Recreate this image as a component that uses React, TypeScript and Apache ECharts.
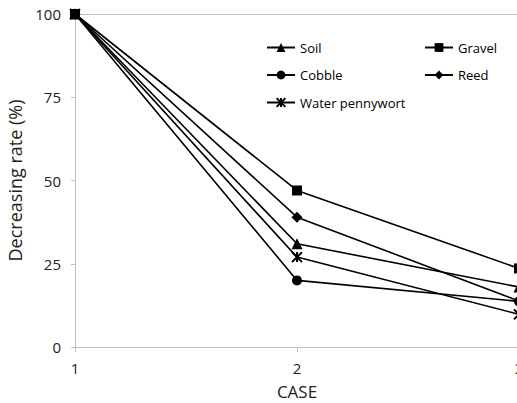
import React, { useEffect, useRef } from "react";
import * as echarts from "echarts";

const cases = [1, 2, 3];
const soil = [100, 31, 18];
const gravel = [100, 47, 23.6];
const cobble = [100, 20, 13.7];
const reed = [100, 39, 13.8];
const waterPennywort = [100, 27, 9.8];
const yTicks = [0, 25, 50, 75, 100];

const FONT = "'Open Sans', 'Noto Sans', sans-serif";
const asterisk = "path://M0,0L10,10M10,0L0,10M5,0L5,10";

function mk(name: string, vals: number[], symbol: string, size: number) {
  return {
    name,
    type: "line",
    data: cases.map((c, i) => [c, vals[i]]),
    symbol,
    symbolSize: size,
    lineStyle: { color: "#000", width: 1.6 },
    itemStyle: {
      color: "#000",
      borderColor: "#000",
      borderWidth: symbol === asterisk ? 2 : 0,
    },
  };
}

export default function App() {
  const ref = useRef<HTMLDivElement>(null);
  useEffect(() => {
    const chart = echarts.init(ref.current!, null, { renderer: "svg" });
    chart.setOption({
      animation: false,
      backgroundColor: "#fff",
      textStyle: { fontFamily: FONT },
      grid: {
        left: 75,
        top: 14,
        bottom: 56,
        right: -2,
        containLabel: false,
        outerBoundsMode: "none",
      },
      legend: [
        {
          orient: "vertical",
          left: 261,
          top: 36,
          itemWidth: 28,
          itemHeight: 11,
          itemGap: 14.5,
          data: ["Soil", "Cobble", "Water pennywort"],
          textStyle: { fontFamily: FONT, fontSize: 13, color: "#000" },
        },
        {
          orient: "vertical",
          left: 419,
          top: 36,
          itemWidth: 28,
          itemHeight: 11,
          itemGap: 14.5,
          data: ["Gravel", "Reed"],
          textStyle: { fontFamily: FONT, fontSize: 13, color: "#000" },
        },
      ],
      xAxis: [
        {
          type: "value",
          min: 1,
          max: 3,
          interval: 1,
          name: "CASE",
          nameLocation: "middle",
          nameGap: 35,
          nameTextStyle: { fontSize: 17, color: "#222", fontFamily: FONT, lineHeight: 18 },
          axisLine: { lineStyle: { color: "#bfbfbf", width: 1 } },
          axisTick: { show: true, length: 5, lineStyle: { color: "#bfbfbf" } },
          axisLabel: { fontSize: 15, color: "#222", margin: 13, fontFamily: FONT },
          splitLine: { show: false },
        },
        {
          type: "value",
          position: "top",
          min: 1,
          max: 3,
          interval: 1,
          axisLine: { show: true, lineStyle: { color: "#bfbfbf", width: 1 } },
          axisTick: { show: false },
          axisLabel: { show: false },
          splitLine: { show: false },
        },
      ],
      yAxis: {
        type: "value",
        min: yTicks[0],
        max: yTicks[yTicks.length - 1],
        interval: 25,
        name: "Decreasing rate (%)",
        nameLocation: "middle",
        nameGap: 51,
        nameTextStyle: { fontSize: 18, color: "#222", fontFamily: FONT },
        axisLine: { show: true, lineStyle: { color: "#bfbfbf", width: 1 } },
        axisTick: { show: true, length: 4, lineStyle: { color: "#bfbfbf" } },
        axisLabel: { fontSize: 15, color: "#222", margin: 14, fontFamily: FONT },
        splitLine: { show: false },
      },
      series: [
        mk("Soil", soil, "triangle", 11),
        mk("Gravel", gravel, "rect", 10),
        mk("Cobble", cobble, "circle", 10),
        mk("Reed", reed, "diamond", 11),
        mk("Water pennywort", waterPennywort, asterisk, 10),
      ],
    });
    return () => chart.dispose();
  }, []);
  return <div ref={ref} style={{ width: 517, height: 403, position: "absolute", left: 0, top: 0 }} />;
}
